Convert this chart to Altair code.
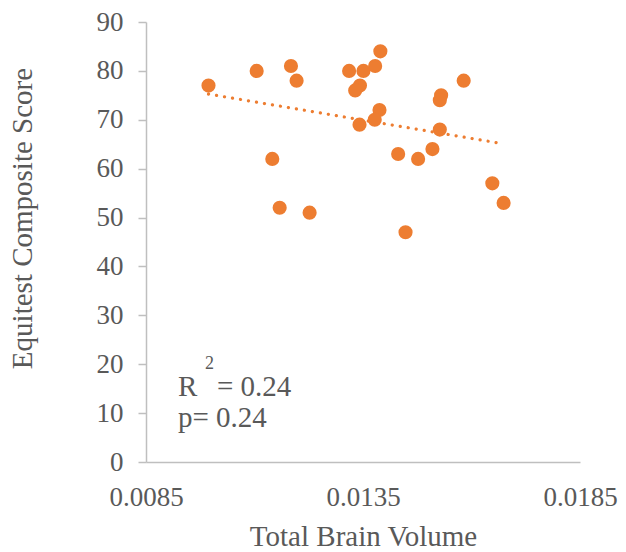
import altair as alt
import pandas as pd

brain_volume = [0.00994, 0.01105, 0.01184, 0.01197, 0.01141, 0.01158, 0.01227,
                0.01318, 0.01351, 0.01378, 0.01390, 0.01343, 0.01332, 0.01388,
                0.01377, 0.01342, 0.01431, 0.01477, 0.01510, 0.01527, 0.01530,
                0.01527, 0.01582, 0.01648, 0.01674, 0.01448]
equitest = [77, 80, 81, 78, 62, 52, 51, 80, 80, 81, 84, 77, 76, 72, 70, 69,
            63, 62, 64, 68, 75, 74, 78, 57, 53, 47]
x_ticks = [0.0085, 0.0135, 0.0185]
y_ticks = [0, 10, 20, 30, 40, 50, 60, 70, 80, 90]

df = pd.DataFrame({"x": brain_volume, "y": equitest})

ORANGE = "#ED7D31"
TXT = "#595959"
FONT = "'Liberation Serif', 'Times New Roman', 'DejaVu Serif', serif"

xs = alt.X("x:Q", scale=alt.Scale(domain=[0.0085, 0.0185], nice=False, zero=False),
           axis=alt.Axis(values=x_ticks, format=".4f", title="Total Brain Volume",
                         grid=False, ticks=False, tickSize=0, labelPadding=43,
                         labelBaseline="alphabetic", labelFontSize=27,
                         labelColor=TXT, labelFont=FONT, domainColor="#BFBFBF",
                         domainWidth=1.5, titleFont=FONT, titleFontSize=29,
                         titleFontWeight="normal", titleColor=TXT,
                         titleX=217, titleY=83, titleBaseline="alphabetic",
                         titleAlign="center", labelFlush=False))
ys = alt.Y("y:Q", scale=alt.Scale(domain=[0, 90], nice=False),
           axis=alt.Axis(values=y_ticks, title="Equitest Composite Score",
                         grid=False, tickSize=8, tickColor="#BFBFBF", tickWidth=1.5,
                         labelPadding=15, labelFontSize=27, labelColor=TXT,
                         labelFont=FONT, domainColor="#BFBFBF", domainWidth=1.5,
                         titleFont=FONT, titleFontSize=29, titleFontWeight="normal",
                         titleColor=TXT, titleAngle=270, titleX=-115, titleY=196,
                         titleBaseline="alphabetic", titleAlign="center",
                         labelFlush=False))

trend = alt.Chart(df).transform_regression("x", "y").mark_line(
    color=ORANGE, strokeWidth=3.2, strokeDash=[0.1, 8], strokeCap="round"
).encode(x=xs, y=ys)

points = alt.Chart(df).mark_circle(size=200, color=ORANGE, opacity=1).encode(x=xs, y=ys)

ann = pd.DataFrame({"t": ["R", "= 0.24", "p= 0.24"],
                    "px": [32, 71, 32], "py": [374, 374, 405]})
ann_text = alt.Chart(ann).mark_text(font=FONT, fontSize=29, color=TXT,
                                    align="left", baseline="alphabetic").encode(
    x=alt.X("px:Q", scale=None), y=alt.Y("py:Q", scale=None), text="t:N")
sup = alt.Chart(pd.DataFrame({"t": ["2"]})).mark_text(
    font=FONT, fontSize=18, color=TXT, align="left", baseline="alphabetic"
).encode(x=alt.value(59), y=alt.value(347), text="t:N")

chart = alt.layer(trend, points, ann_text, sup).properties(
    width=434, height=440,
    autosize=alt.AutoSizeParams(type="none"),
    padding={"left": 146, "top": 22, "right": 46, "bottom": 90},
).configure_view(stroke=None)

chart.save("out.html", embed_options={"renderer": "svg", "actions": False})
